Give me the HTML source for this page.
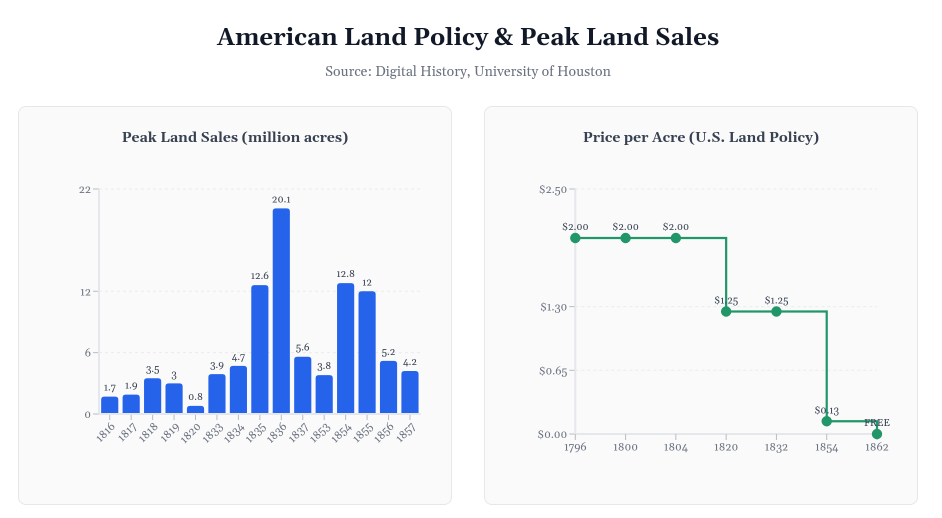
<!DOCTYPE html>
<html lang="en">
<head>
<meta charset="utf-8">
<title>American Land Policy &amp; Peak Land Sales</title>
<style>
html,body{margin:0;padding:0;background:#fff;width:942px;height:518px;overflow:hidden}
body{font-family:Georgia,"Gelasio","Liberation Serif",serif;position:relative}
h1{position:absolute;left:0;top:23px;width:936px;margin:0;text-align:center;font-size:24px;line-height:33px;font-weight:700;color:#111827}
.sub{position:absolute;left:0;top:63px;width:936px;margin:0;text-align:center;font-size:14px;line-height:18px;color:#6b7280}
.card{position:absolute;top:106px;width:432px;height:397px;background:#fafafa;border:1px solid #e5e7eb;border-radius:8px}
.card h2{position:absolute;left:0;top:22px;width:100%;margin:0;text-align:center;font-size:14px;line-height:19px;font-weight:700;color:#374151}
svg{position:absolute;left:0;top:0;overflow:visible}
svg text{font-family:Georgia,"Gelasio","Liberation Serif",serif}
</style>
</head>
<body>
<h1>American Land Policy &amp; Peak Land Sales</h1>
<p class="sub">Source: Digital History, University of Houston</p>
<div class="card" style="left:18px">
  <h2>Peak Land Sales (million acres)</h2>
</div>
<div class="card" style="left:484px">
  <h2>Price per Acre (U.S. Land Policy)</h2>
</div>
<svg id="chart" width="942" height="518"></svg>
<script>
const saleYears = ['1816','1817','1818','1819','1820','1833','1834','1835','1836','1837','1853','1854','1855','1856','1857'];
const saleValues = [1.7,1.9,3.5,3,0.8,3.9,4.7,12.6,20.1,5.6,3.8,12.8,12,5.2,4.2];
const saleTicks = [0,6,12,22];
const priceYears = ['1796','1800','1804','1820','1832','1854','1862'];
const priceValues = [2,2,2,1.25,1.25,0.13,0];
const priceLabels = ['$2.00','$2.00','$2.00','$1.25','$1.25','$0.13','FREE'];
const priceTicks = [0,0.65,1.3,2.5];

const svg = document.getElementById('chart');
function mk(tag, attrs, parent, text) {
  const el = document.createElementNS('http://www.w3.org/2000/svg', tag);
  for (const k in attrs) el.setAttribute(k, attrs[k]);
  if (text !== undefined) el.textContent = text;
  (parent || svg).appendChild(el);
  return el;
}
const AXIS = '#e5e7eb', GRID = '#ebebec', TICK = '#b8bcc4', LABEL = '#6b7280', VALUE = '#374151';

/* Land sales bars */
const g1 = mk('g', {});


const bx0 = 99, bx1 = 420.7, by0 = 414, by1 = 189, bMax = 22;
const step = (bx1 - bx0) / saleYears.length;
const bw = step * 0.8;
const bandX = i => bx0 + step * i + step * 0.1;
const bandC = i => bx0 + step * i + step / 2;
const by = v => by0 - (v / bMax) * (by0 - by1);

saleTicks.forEach(t => {
  const y = by(t);
  if (t > 0) {
    const gl = mk('line', {x1: bx0, x2: bx1, y1: y, y2: y, stroke: GRID, 'stroke-width': 1, 'stroke-dasharray': '3 3'}, g1);
    
    
  }
  const tk = mk('line', {x1: bx0 - 6, x2: bx0, y1: y, y2: y, stroke: TICK, 'stroke-width': 1}, g1);
  
  
  const tl = mk('text', {x: bx0 - 8, y: y + 4, 'text-anchor': 'end', 'font-size': 11, fill: LABEL}, g1, String(t));
  
  
});
saleYears.forEach((yr, i) => {
  const v = saleValues[i];
  const x = bandX(i), y = by(v), h = by0 - y, r = Math.min(3, h);
  const bar = mk('path', {
    d: 'M' + x + ' ' + by0 + 'V' + (y + r) + 'Q' + x + ' ' + y + ' ' + (x + r) + ' ' + y +
       'H' + (x + bw - r) + 'Q' + (x + bw) + ' ' + y + ' ' + (x + bw) + ' ' + (y + r) + 'V' + by0 + 'Z',
    fill: '#2563eb'
  }, g1);
  
  
  const vl = mk('text', {x: bandC(i), y: y - 6, 'text-anchor': 'middle', 'font-size': 10, fill: VALUE}, g1, String(v));
  
  
  const tk = mk('line', {x1: bandC(i), x2: bandC(i), y1: by0, y2: by0 + 6, stroke: TICK, 'stroke-width': 1}, g1);
  
  
  const cx = bandC(i) + 6, cy = by0 + 13;
  const xl = mk('text', {x: cx, y: cy, 'text-anchor': 'end', 'font-size': 11, fill: LABEL, transform: 'rotate(-45 ' + cx + ' ' + cy + ')'}, g1, yr);
  
  
});
const ay1 = mk('line', {x1: bx0, x2: bx0, y1: by1, y2: by0, stroke: AXIS, 'stroke-width': 2}, g1);


const ax1 = mk('line', {x1: bx0, x2: bx1, y1: by0, y2: by0, stroke: AXIS, 'stroke-width': 2}, g1);



/* Price step line */
const g2 = mk('g', {});


const px0 = 575.3, px1 = 877, py0 = 434, py1 = 189, pMax = 2.5;
const px = i => px0 + (px1 - px0) * i / (priceYears.length - 1);
const py = v => py0 - (v / pMax) * (py0 - py1);

priceTicks.forEach(t => {
  const y = py(t);
  if (t > 0) {
    const gl = mk('line', {x1: px0, x2: px1, y1: y, y2: y, stroke: GRID, 'stroke-width': 1, 'stroke-dasharray': '3 3'}, g2);
    
    
  }
  const tk = mk('line', {x1: px0 - 6, x2: px0, y1: y, y2: y, stroke: TICK, 'stroke-width': 1}, g2);
  
  
  const tl = mk('text', {x: px0 - 8, y: y + 4, 'text-anchor': 'end', 'font-size': 11, fill: LABEL}, g2, '$' + t.toFixed(2));
  
  
});
const ay2 = mk('line', {x1: px0, x2: px0, y1: py1, y2: py0, stroke: AXIS, 'stroke-width': 2}, g2);


const ax2 = mk('line', {x1: px0, x2: px1, y1: py0, y2: py0, stroke: AXIS, 'stroke-width': 2}, g2);


priceYears.forEach((yr, i) => {
  const tk = mk('line', {x1: px(i), x2: px(i), y1: py0, y2: py0 + 6, stroke: TICK, 'stroke-width': 1}, g2);
  
  
  const xl = mk('text', {x: px(i), y: py0 + 16.5, 'text-anchor': 'middle', 'font-size': 11, fill: LABEL}, g2, yr);
  
  
});
let d = 'M' + px(0) + ' ' + py(priceValues[0]);
for (let i = 1; i < priceValues.length; i++) {
  d += 'H' + px(i) + 'V' + py(priceValues[i]);
}
const line = mk('path', {d: d, fill: 'none', stroke: '#219669', 'stroke-width': 2.2}, g2);


priceValues.forEach((v, i) => {
  const c = mk('circle', {cx: px(i), cy: py(v), r: 5.2, fill: '#219669'}, g2);
  
  
});
priceValues.forEach((v, i) => {
  const t = mk('text', {x: px(i), y: py(v) - 8, 'text-anchor': 'middle', 'font-size': 10, fill: VALUE}, g2, priceLabels[i]);
  
  
});
</script>
</body>
</html>
